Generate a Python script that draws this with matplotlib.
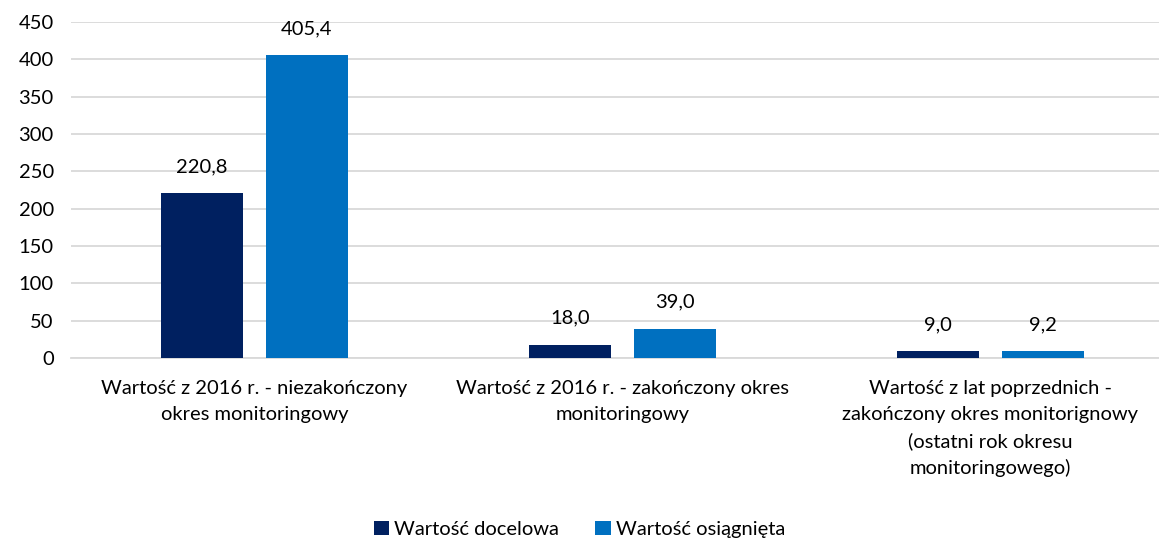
import matplotlib
matplotlib.use("Agg")
import matplotlib.pyplot as plt
import numpy as np

categories = [
    "Wartość z 2016 r. - niezakończony\nokres monitoringowy",
    "Wartość z 2016 r. - zakończony okres\nmonitoringowy",
    "Wartość z lat poprzednich -\nzakończony okres monitorignowy\n(ostatni rok okresu\nmonitoringowego)",
]
target = [220.8, 18.0, 9.0]
achieved = [405.4, 39.0, 9.2]
series_names = ["Wartość docelowa", "Wartość osiągnięta"]
yticks = [0, 50, 100, 150, 200, 250, 300, 350, 400, 450]

plt.rcParams['font.family'] = ['Lato', 'DejaVu Sans']

fig = plt.figure(figsize=(11.59, 5.4), dpi=100)
# plot area runs a little past the right edge, like the cropped original
ax = fig.add_axes([70.5 / 1159, 182 / 540, 1104 / 1159, 336 / 540])

x = np.arange(len(categories))
w = 0.223
off = 0.1427
b1 = ax.bar(x - off, target, w, color="#002060", label=series_names[0], zorder=3)
b2 = ax.bar(x + off, achieved, w, color="#0070C0", label=series_names[1], zorder=3)

fmt = lambda v: f"{v:.1f}".replace(".", ",")
ax.bar_label(b1, labels=[fmt(v) for v in target], padding=13, fontsize=14.5)
ax.bar_label(b2, labels=[fmt(v) for v in achieved], padding=13, fontsize=14.5)

ax.set_xlim(-0.5, len(categories) - 0.5)
ax.set_ylim(0, 450)
ax.set_yticks(yticks)
ax.set_xticks(x)
ax.set_xticklabels(categories, fontsize=14.5, linespacing=1.62)
ax.tick_params(axis='both', length=0, labelsize=14.5)
ax.tick_params(axis='x', pad=16)
ax.tick_params(axis='y', pad=12)
ax.grid(axis='y', color="#D9D9D9", linewidth=1.3, zorder=0)
for s in ["top", "right", "left"]:
    ax.spines[s].set_visible(False)
ax.spines["bottom"].set_color("#D9D9D9")
ax.spines["bottom"].set_linewidth(1.3)

fig.legend(loc="lower center", bbox_to_anchor=(0.5, -0.03), ncol=2, frameon=False,
           fontsize=14.5, handlelength=0.75, handleheight=0.75, handletextpad=0.25,
           columnspacing=1.8)

fig.savefig("out.png", dpi=100)
